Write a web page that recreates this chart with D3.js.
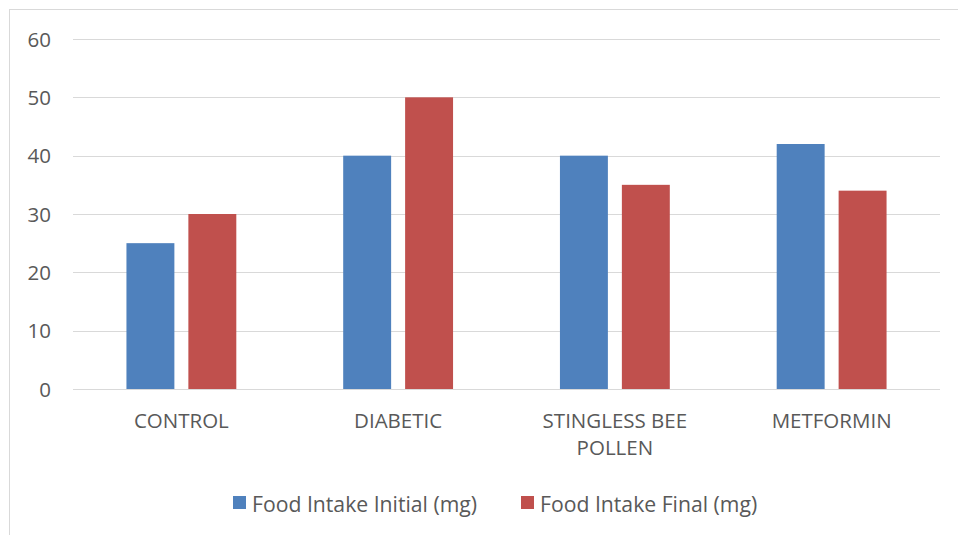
<!DOCTYPE html>
<html>
<head>
<meta charset="utf-8">
<script src="https://cdn.jsdelivr.net/npm/d3@7"></script>
<style>
  html, body { margin: 0; padding: 0; background: #fff; }
  svg { display: block; }
  text { font-family: "Open Sans", sans-serif; fill: #595959; }
</style>
</head>
<body>
<svg id="chart" width="958" height="535"></svg>
<script>
// Food intake per group, initial vs final (mg)
const categories = ["CONTROL", "DIABETIC", "STINGLESS BEE POLLEN", "METFORMIN"];
const categoryLines = [["CONTROL"], ["DIABETIC"], ["STINGLESS BEE", "POLLEN"], ["METFORMIN"]];
const seriesNames = ["Food Intake Initial (mg)", "Food Intake Final (mg)"];
const initialValues = [25, 40, 40, 42];
const finalValues = [30, 50, 35, 34];
const yTicks = [0, 10, 20, 30, 40, 50, 60];
const colors = ["#4f81bd", "#c0504d"];

const svg = d3.select("#chart");
const W = 958, H = 535;
const plot = { left: 73, right: 940, top: 39, bottom: 389 };

// outer frame
svg.append("rect")
  .attr("x", 9.5).attr("y", 9.5)
  .attr("width", W).attr("height", H)
  .attr("fill", "none").attr("stroke", "#d9d9d9").attr("stroke-width", 1);

const x = d3.scaleBand().domain(categories).range([plot.left, plot.right]).paddingInner(0).paddingOuter(0);
const y = d3.scaleLinear().domain([0, 60]).range([plot.bottom, plot.top]);

// gridlines
svg.append("g").selectAll("line").data(yTicks).join("line")
  .attr("x1", plot.left).attr("x2", plot.right)
  .attr("y1", d => Math.round(y(d)) + 0.5).attr("y2", d => Math.round(y(d)) + 0.5)
  .attr("stroke", "#d9d9d9").attr("stroke-width", 1);

// y tick labels
svg.append("g").selectAll("text").data(yTicks).join("text")
  .attr("x", 51).attr("y", d => y(d) + 7.5)
  .attr("text-anchor", "end")
  .style("font-size", "20.5px")
  .text(d => d);

// bars
const inner = d3.scaleBand().domain([0, 1])
  .range([0, x.bandwidth()]).paddingInner(0.226).paddingOuter(0.863);
const rows = categories.map((c, i) => ({ c, vals: [initialValues[i], finalValues[i]] }));
const groups = svg.append("g").selectAll("g").data(rows).join("g")
  .attr("transform", d => `translate(${x(d.c)},0)`);
groups.selectAll("rect").data(d => d.vals.map((v, k) => ({ v, k }))).join("rect")
  .attr("x", d => inner(d.k))
  .attr("width", inner.bandwidth())
  .attr("y", d => y(d.v))
  .attr("height", d => y(0) - y(d.v))
  .attr("fill", d => colors[d.k]);

// category labels
const cat = svg.append("g").selectAll("text").data(categories).join("text")
  .attr("x", d => x(d) + x.bandwidth() / 2)
  .attr("y", 428)
  .attr("text-anchor", "middle")
  .style("font-size", "20.5px");
cat.selectAll("tspan").data((d, i) => categoryLines[i]).join("tspan")
  .attr("x", function() { return this.parentNode.getAttribute("x"); })
  .attr("dy", (d, i) => i === 0 ? 0 : 27)
  .text(d => d);

// legend
const legendItems = [
  { name: seriesNames[0], color: colors[0], x: 233 },
  { name: seriesNames[1], color: colors[1], x: 521 }
];
const lg = svg.append("g").selectAll("g").data(legendItems).join("g")
  .attr("transform", d => `translate(${d.x},496)`);
lg.append("rect").attr("width", 13).attr("height", 13).attr("fill", d => d.color);
lg.append("text").attr("x", 19).attr("y", 16)
  .style("font-size", "21.2px").text(d => d.name);
</script>
</body>
</html>
